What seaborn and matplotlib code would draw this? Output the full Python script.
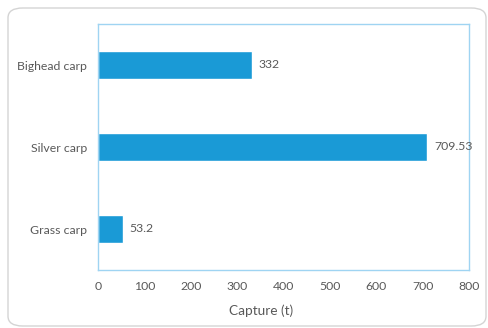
import matplotlib
matplotlib.use("Agg")
import matplotlib.pyplot as plt
from matplotlib.patches import FancyBboxPatch
import seaborn as sns
import pandas as pd

species = ["Bighead carp", "Silver carp", "Grass carp"]
capture = [332, 709.53, 53.2]
value_labels = ["332", "709.53", "53.2"]
x_ticks = [0, 100, 200, 300, 400, 500, 600, 700, 800]

sns.set_theme(style="white")
plt.rcParams["font.family"] = ["Lato", "DejaVu Sans"]

df = pd.DataFrame({"species": species, "capture": capture})

fig = plt.figure(figsize=(4.88, 3.28), dpi=100)
fig.patch.set_facecolor("white")

# rounded frame around the whole chart
frame = FancyBboxPatch((8 / 488, 2 / 328), 478 / 488, 318 / 328,
                       boxstyle="round,pad=0,rounding_size=0.03",
                       transform=fig.transFigure, facecolor="none",
                       edgecolor="#d4d4d4", linewidth=1.0, zorder=-1)
fig.patches.append(frame)

ax = fig.add_axes([98 / 488, 1 - 270 / 328, 371 / 488, 246 / 328])
sns.barplot(data=df, x="capture", y="species", orient="h", color="#1a9ad6",
            saturation=1, width=0.35, ax=ax)

ax.set_xlim(0, 800)
ax.set_xticks(x_ticks)
ax.set_xticklabels([str(t) for t in x_ticks])
ax.tick_params(axis="both", length=0, labelsize=8.8, colors="#595959")
ax.tick_params(axis="x", pad=8)
ax.tick_params(axis="y", pad=8)
ax.set_ylabel("")
ax.set_xlabel("Capture (t)", fontsize=9.8, color="#595959")
ax.xaxis.set_label_coords((261 - 98) / 371, -(311 - 270) / 246)
ax.xaxis.label.set_va("center")

for spine in ax.spines.values():
    spine.set_color("#9fd4f2")
    spine.set_linewidth(1.0)

for i, (v, lab) in enumerate(zip(capture, value_labels)):
    ax.text(v + 15, i, lab, va="center", ha="left", fontsize=8.8,
            color="#595959", clip_on=False)

fig.savefig("out.png", dpi=100)
